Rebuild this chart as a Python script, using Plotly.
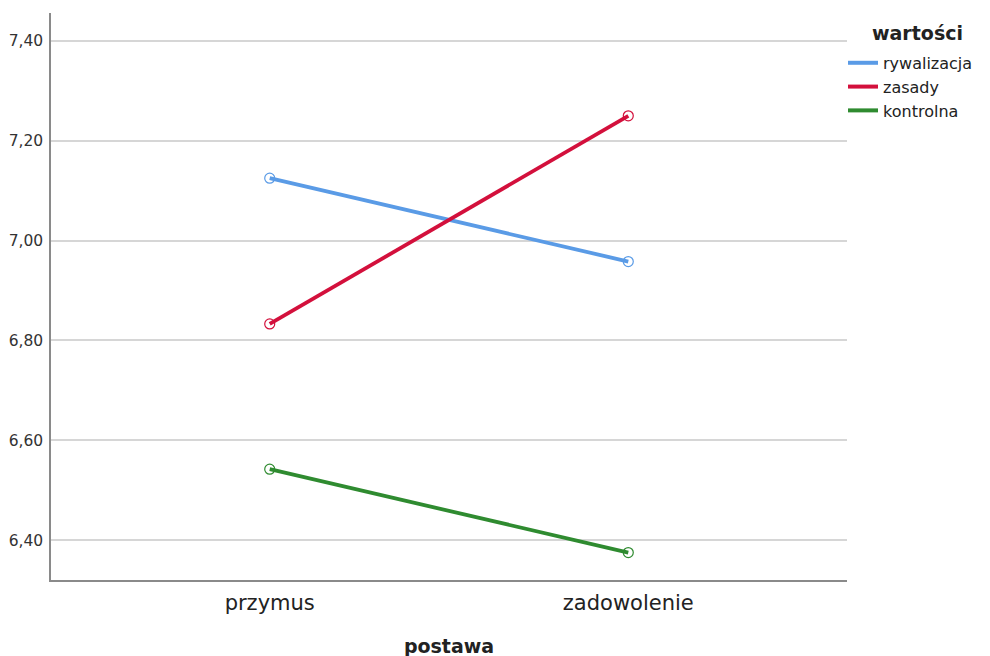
import plotly.graph_objects as go

categories = ["przymus", "zadowolenie"]
series_names = ["rywalizacja", "zasady", "kontrolna"]
rywalizacja = [7.125, 6.958]
zasady = [6.833, 7.250]
kontrolna = [6.542, 6.375]
y_ticks = [6.40, 6.60, 6.80, 7.00, 7.20, 7.40]

colors = ["#5A9BE6", "#D3103C", "#2F8B30"]
values = [rywalizacja, zasady, kontrolna]

fig = go.Figure()
for name, vals, col in zip(series_names, values, colors):
    fig.add_trace(go.Scatter(
        x=categories, y=vals, name=name, mode="lines+markers", showlegend=False,
        line=dict(color=col, width=3.8),
        marker=dict(symbol="circle-open", size=10, color=col, line=dict(width=1.2)),
    ))
# legend entries (line only)
for name, col in zip(series_names, colors):
    fig.add_trace(go.Scatter(
        x=[None], y=[None], name=name, mode="lines",
        line=dict(color=col, width=4),
    ))

font_family = "DejaVu Sans"
fig.update_layout(
    width=990, height=656,
    margin=dict(l=43, r=151, t=5, b=84, autoexpand=False),
    plot_bgcolor="white", paper_bgcolor="white",
    font=dict(family=font_family, color="#222"),
    separators=",.",
    showlegend=True,
    legend=dict(
        x=0.995, y=0.942, xanchor="left", yanchor="top",
        font=dict(size=16, color="#222"),
        itemwidth=30, tracegroupgap=0,
        bgcolor="rgba(0,0,0,0)",
    ),
    annotations=[dict(
        text="<b>wartości</b>", xref="paper", yref="paper",
        x=1.088, y=0.965, xanchor="center", yanchor="middle",
        showarrow=False, font=dict(size=19, color="#222"),
    )],
    xaxis=dict(
        type="category", range=[-0.61, 1.61], automargin=False,
        showgrid=False, showline=True, linecolor="#8a8a8a", linewidth=1.5,
        ticks="", tickfont=dict(size=21, color="#222"), ticklabelstandoff=3,
        title=dict(text="<b>postawa</b>", font=dict(size=19, color="#222"), standoff=26),
    ),
    yaxis=dict(
        range=[6.32, 7.456], tickvals=y_ticks, tickformat=".2f", automargin=False,
        showgrid=True, gridcolor="#d6d6d6", gridwidth=1.5,
        showline=True, linecolor="#8a8a8a", linewidth=1.5,
        ticks="", tickfont=dict(size=15.5, color="#333"), ticklabelstandoff=3,
        zeroline=False,
    ),
)

fig.write_html("out.html")
